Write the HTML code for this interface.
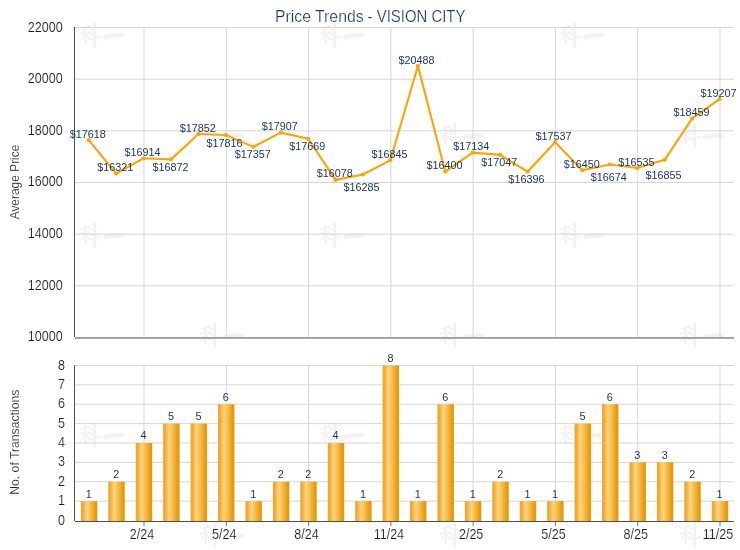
<!DOCTYPE html>
<html><head><meta charset="utf-8"><title>Price Trends - VISION CITY</title>
<style>html,body{margin:0;padding:0;background:#fff;}body{width:740px;height:550px;overflow:hidden;font-family:"Liberation Sans",sans-serif;}svg{display:block;will-change:transform;}</style>
</head><body>
<svg width="740" height="550" viewBox="0 0 740 550" font-family="Liberation Sans, sans-serif">
<defs>
<linearGradient id="bg" x1="0" y1="0" x2="1" y2="0"><stop offset="0" stop-color="#efa62a"/><stop offset="0.1" stop-color="#efa92f"/><stop offset="0.36" stop-color="#fdd47e"/><stop offset="0.65" stop-color="#f4b540"/><stop offset="0.88" stop-color="#e89b08"/><stop offset="0.95" stop-color="#e69905"/><stop offset="1" stop-color="#efa72c"/></linearGradient>
</defs>
<g transform="translate(80,22.5)" fill="none" stroke="#f2f2f2" stroke-linecap="round"><path d="M2.5 6.5 L9.5 3.5" stroke-width="2.2"/><path d="M1 11 L10.5 10" stroke-width="2"/><path d="M5.5 5 L5.5 20.5" stroke-width="2.4"/><path d="M5.5 12 L1 17.5" stroke-width="1.8"/><path d="M6.5 12.5 L9 15.5" stroke-width="1.6"/><path d="M10 5.5 L12 7.5 M10 10.5 L12 12.5" stroke-width="1.8"/><path d="M9 17 L20 14.5" stroke-width="2"/><path d="M14.7 1.5 L14.7 24" stroke-width="3"/><path d="M25 14.5 Q33 12.5 42 13" stroke-width="4.4"/></g>
<g transform="translate(200,122.5)" fill="none" stroke="#f2f2f2" stroke-linecap="round"><path d="M2.5 6.5 L9.5 3.5" stroke-width="2.2"/><path d="M1 11 L10.5 10" stroke-width="2"/><path d="M5.5 5 L5.5 20.5" stroke-width="2.4"/><path d="M5.5 12 L1 17.5" stroke-width="1.8"/><path d="M6.5 12.5 L9 15.5" stroke-width="1.6"/><path d="M10 5.5 L12 7.5 M10 10.5 L12 12.5" stroke-width="1.8"/><path d="M9 17 L20 14.5" stroke-width="2"/><path d="M14.7 1.5 L14.7 24" stroke-width="3"/><path d="M25 14.5 Q33 12.5 42 13" stroke-width="4.4"/></g>
<g transform="translate(320,22.5)" fill="none" stroke="#f2f2f2" stroke-linecap="round"><path d="M2.5 6.5 L9.5 3.5" stroke-width="2.2"/><path d="M1 11 L10.5 10" stroke-width="2"/><path d="M5.5 5 L5.5 20.5" stroke-width="2.4"/><path d="M5.5 12 L1 17.5" stroke-width="1.8"/><path d="M6.5 12.5 L9 15.5" stroke-width="1.6"/><path d="M10 5.5 L12 7.5 M10 10.5 L12 12.5" stroke-width="1.8"/><path d="M9 17 L20 14.5" stroke-width="2"/><path d="M14.7 1.5 L14.7 24" stroke-width="3"/><path d="M25 14.5 Q33 12.5 42 13" stroke-width="4.4"/></g>
<g transform="translate(440,122.5)" fill="none" stroke="#f2f2f2" stroke-linecap="round"><path d="M2.5 6.5 L9.5 3.5" stroke-width="2.2"/><path d="M1 11 L10.5 10" stroke-width="2"/><path d="M5.5 5 L5.5 20.5" stroke-width="2.4"/><path d="M5.5 12 L1 17.5" stroke-width="1.8"/><path d="M6.5 12.5 L9 15.5" stroke-width="1.6"/><path d="M10 5.5 L12 7.5 M10 10.5 L12 12.5" stroke-width="1.8"/><path d="M9 17 L20 14.5" stroke-width="2"/><path d="M14.7 1.5 L14.7 24" stroke-width="3"/><path d="M25 14.5 Q33 12.5 42 13" stroke-width="4.4"/></g>
<g transform="translate(560,22.5)" fill="none" stroke="#f2f2f2" stroke-linecap="round"><path d="M2.5 6.5 L9.5 3.5" stroke-width="2.2"/><path d="M1 11 L10.5 10" stroke-width="2"/><path d="M5.5 5 L5.5 20.5" stroke-width="2.4"/><path d="M5.5 12 L1 17.5" stroke-width="1.8"/><path d="M6.5 12.5 L9 15.5" stroke-width="1.6"/><path d="M10 5.5 L12 7.5 M10 10.5 L12 12.5" stroke-width="1.8"/><path d="M9 17 L20 14.5" stroke-width="2"/><path d="M14.7 1.5 L14.7 24" stroke-width="3"/><path d="M25 14.5 Q33 12.5 42 13" stroke-width="4.4"/></g>
<g transform="translate(680,122.5)" fill="none" stroke="#f2f2f2" stroke-linecap="round"><path d="M2.5 6.5 L9.5 3.5" stroke-width="2.2"/><path d="M1 11 L10.5 10" stroke-width="2"/><path d="M5.5 5 L5.5 20.5" stroke-width="2.4"/><path d="M5.5 12 L1 17.5" stroke-width="1.8"/><path d="M6.5 12.5 L9 15.5" stroke-width="1.6"/><path d="M10 5.5 L12 7.5 M10 10.5 L12 12.5" stroke-width="1.8"/><path d="M9 17 L20 14.5" stroke-width="2"/><path d="M14.7 1.5 L14.7 24" stroke-width="3"/><path d="M25 14.5 Q33 12.5 42 13" stroke-width="4.4"/></g>
<g transform="translate(80,222.5)" fill="none" stroke="#f2f2f2" stroke-linecap="round"><path d="M2.5 6.5 L9.5 3.5" stroke-width="2.2"/><path d="M1 11 L10.5 10" stroke-width="2"/><path d="M5.5 5 L5.5 20.5" stroke-width="2.4"/><path d="M5.5 12 L1 17.5" stroke-width="1.8"/><path d="M6.5 12.5 L9 15.5" stroke-width="1.6"/><path d="M10 5.5 L12 7.5 M10 10.5 L12 12.5" stroke-width="1.8"/><path d="M9 17 L20 14.5" stroke-width="2"/><path d="M14.7 1.5 L14.7 24" stroke-width="3"/><path d="M25 14.5 Q33 12.5 42 13" stroke-width="4.4"/></g>
<g transform="translate(200,322.5)" fill="none" stroke="#f2f2f2" stroke-linecap="round"><path d="M2.5 6.5 L9.5 3.5" stroke-width="2.2"/><path d="M1 11 L10.5 10" stroke-width="2"/><path d="M5.5 5 L5.5 20.5" stroke-width="2.4"/><path d="M5.5 12 L1 17.5" stroke-width="1.8"/><path d="M6.5 12.5 L9 15.5" stroke-width="1.6"/><path d="M10 5.5 L12 7.5 M10 10.5 L12 12.5" stroke-width="1.8"/><path d="M9 17 L20 14.5" stroke-width="2"/><path d="M14.7 1.5 L14.7 24" stroke-width="3"/><path d="M25 14.5 Q33 12.5 42 13" stroke-width="4.4"/></g>
<g transform="translate(320,222.5)" fill="none" stroke="#f2f2f2" stroke-linecap="round"><path d="M2.5 6.5 L9.5 3.5" stroke-width="2.2"/><path d="M1 11 L10.5 10" stroke-width="2"/><path d="M5.5 5 L5.5 20.5" stroke-width="2.4"/><path d="M5.5 12 L1 17.5" stroke-width="1.8"/><path d="M6.5 12.5 L9 15.5" stroke-width="1.6"/><path d="M10 5.5 L12 7.5 M10 10.5 L12 12.5" stroke-width="1.8"/><path d="M9 17 L20 14.5" stroke-width="2"/><path d="M14.7 1.5 L14.7 24" stroke-width="3"/><path d="M25 14.5 Q33 12.5 42 13" stroke-width="4.4"/></g>
<g transform="translate(440,322.5)" fill="none" stroke="#f2f2f2" stroke-linecap="round"><path d="M2.5 6.5 L9.5 3.5" stroke-width="2.2"/><path d="M1 11 L10.5 10" stroke-width="2"/><path d="M5.5 5 L5.5 20.5" stroke-width="2.4"/><path d="M5.5 12 L1 17.5" stroke-width="1.8"/><path d="M6.5 12.5 L9 15.5" stroke-width="1.6"/><path d="M10 5.5 L12 7.5 M10 10.5 L12 12.5" stroke-width="1.8"/><path d="M9 17 L20 14.5" stroke-width="2"/><path d="M14.7 1.5 L14.7 24" stroke-width="3"/><path d="M25 14.5 Q33 12.5 42 13" stroke-width="4.4"/></g>
<g transform="translate(560,222.5)" fill="none" stroke="#f2f2f2" stroke-linecap="round"><path d="M2.5 6.5 L9.5 3.5" stroke-width="2.2"/><path d="M1 11 L10.5 10" stroke-width="2"/><path d="M5.5 5 L5.5 20.5" stroke-width="2.4"/><path d="M5.5 12 L1 17.5" stroke-width="1.8"/><path d="M6.5 12.5 L9 15.5" stroke-width="1.6"/><path d="M10 5.5 L12 7.5 M10 10.5 L12 12.5" stroke-width="1.8"/><path d="M9 17 L20 14.5" stroke-width="2"/><path d="M14.7 1.5 L14.7 24" stroke-width="3"/><path d="M25 14.5 Q33 12.5 42 13" stroke-width="4.4"/></g>
<g transform="translate(680,322.5)" fill="none" stroke="#f2f2f2" stroke-linecap="round"><path d="M2.5 6.5 L9.5 3.5" stroke-width="2.2"/><path d="M1 11 L10.5 10" stroke-width="2"/><path d="M5.5 5 L5.5 20.5" stroke-width="2.4"/><path d="M5.5 12 L1 17.5" stroke-width="1.8"/><path d="M6.5 12.5 L9 15.5" stroke-width="1.6"/><path d="M10 5.5 L12 7.5 M10 10.5 L12 12.5" stroke-width="1.8"/><path d="M9 17 L20 14.5" stroke-width="2"/><path d="M14.7 1.5 L14.7 24" stroke-width="3"/><path d="M25 14.5 Q33 12.5 42 13" stroke-width="4.4"/></g>
<g transform="translate(80,422.5)" fill="none" stroke="#f2f2f2" stroke-linecap="round"><path d="M2.5 6.5 L9.5 3.5" stroke-width="2.2"/><path d="M1 11 L10.5 10" stroke-width="2"/><path d="M5.5 5 L5.5 20.5" stroke-width="2.4"/><path d="M5.5 12 L1 17.5" stroke-width="1.8"/><path d="M6.5 12.5 L9 15.5" stroke-width="1.6"/><path d="M10 5.5 L12 7.5 M10 10.5 L12 12.5" stroke-width="1.8"/><path d="M9 17 L20 14.5" stroke-width="2"/><path d="M14.7 1.5 L14.7 24" stroke-width="3"/><path d="M25 14.5 Q33 12.5 42 13" stroke-width="4.4"/></g>
<g transform="translate(200,522.5)" fill="none" stroke="#f2f2f2" stroke-linecap="round"><path d="M2.5 6.5 L9.5 3.5" stroke-width="2.2"/><path d="M1 11 L10.5 10" stroke-width="2"/><path d="M5.5 5 L5.5 20.5" stroke-width="2.4"/><path d="M5.5 12 L1 17.5" stroke-width="1.8"/><path d="M6.5 12.5 L9 15.5" stroke-width="1.6"/><path d="M10 5.5 L12 7.5 M10 10.5 L12 12.5" stroke-width="1.8"/><path d="M9 17 L20 14.5" stroke-width="2"/><path d="M14.7 1.5 L14.7 24" stroke-width="3"/><path d="M25 14.5 Q33 12.5 42 13" stroke-width="4.4"/></g>
<g transform="translate(320,422.5)" fill="none" stroke="#f2f2f2" stroke-linecap="round"><path d="M2.5 6.5 L9.5 3.5" stroke-width="2.2"/><path d="M1 11 L10.5 10" stroke-width="2"/><path d="M5.5 5 L5.5 20.5" stroke-width="2.4"/><path d="M5.5 12 L1 17.5" stroke-width="1.8"/><path d="M6.5 12.5 L9 15.5" stroke-width="1.6"/><path d="M10 5.5 L12 7.5 M10 10.5 L12 12.5" stroke-width="1.8"/><path d="M9 17 L20 14.5" stroke-width="2"/><path d="M14.7 1.5 L14.7 24" stroke-width="3"/><path d="M25 14.5 Q33 12.5 42 13" stroke-width="4.4"/></g>
<g transform="translate(440,522.5)" fill="none" stroke="#f2f2f2" stroke-linecap="round"><path d="M2.5 6.5 L9.5 3.5" stroke-width="2.2"/><path d="M1 11 L10.5 10" stroke-width="2"/><path d="M5.5 5 L5.5 20.5" stroke-width="2.4"/><path d="M5.5 12 L1 17.5" stroke-width="1.8"/><path d="M6.5 12.5 L9 15.5" stroke-width="1.6"/><path d="M10 5.5 L12 7.5 M10 10.5 L12 12.5" stroke-width="1.8"/><path d="M9 17 L20 14.5" stroke-width="2"/><path d="M14.7 1.5 L14.7 24" stroke-width="3"/><path d="M25 14.5 Q33 12.5 42 13" stroke-width="4.4"/></g>
<g transform="translate(560,422.5)" fill="none" stroke="#f2f2f2" stroke-linecap="round"><path d="M2.5 6.5 L9.5 3.5" stroke-width="2.2"/><path d="M1 11 L10.5 10" stroke-width="2"/><path d="M5.5 5 L5.5 20.5" stroke-width="2.4"/><path d="M5.5 12 L1 17.5" stroke-width="1.8"/><path d="M6.5 12.5 L9 15.5" stroke-width="1.6"/><path d="M10 5.5 L12 7.5 M10 10.5 L12 12.5" stroke-width="1.8"/><path d="M9 17 L20 14.5" stroke-width="2"/><path d="M14.7 1.5 L14.7 24" stroke-width="3"/><path d="M25 14.5 Q33 12.5 42 13" stroke-width="4.4"/></g>
<g transform="translate(680,522.5)" fill="none" stroke="#f2f2f2" stroke-linecap="round"><path d="M2.5 6.5 L9.5 3.5" stroke-width="2.2"/><path d="M1 11 L10.5 10" stroke-width="2"/><path d="M5.5 5 L5.5 20.5" stroke-width="2.4"/><path d="M5.5 12 L1 17.5" stroke-width="1.8"/><path d="M6.5 12.5 L9 15.5" stroke-width="1.6"/><path d="M10 5.5 L12 7.5 M10 10.5 L12 12.5" stroke-width="1.8"/><path d="M9 17 L20 14.5" stroke-width="2"/><path d="M14.7 1.5 L14.7 24" stroke-width="3"/><path d="M25 14.5 Q33 12.5 42 13" stroke-width="4.4"/></g>
<rect x="75" y="27.000" width="659" height="1" fill="#d6d6d6"/>
<rect x="75" y="78.667" width="659" height="1" fill="#d6d6d6"/>
<rect x="75" y="130.333" width="659" height="1" fill="#d6d6d6"/>
<rect x="75" y="182.000" width="659" height="1" fill="#d6d6d6"/>
<rect x="75" y="233.667" width="659" height="1" fill="#d6d6d6"/>
<rect x="75" y="285.333" width="659" height="1" fill="#d6d6d6"/>
<rect x="143.500" y="27" width="1" height="310" fill="#d6d6d6"/>
<rect x="143.500" y="365" width="1" height="156" fill="#d6d6d6"/>
<rect x="225.786" y="27" width="1" height="310" fill="#d6d6d6"/>
<rect x="225.786" y="365" width="1" height="156" fill="#d6d6d6"/>
<rect x="308.072" y="27" width="1" height="310" fill="#d6d6d6"/>
<rect x="308.072" y="365" width="1" height="156" fill="#d6d6d6"/>
<rect x="390.358" y="27" width="1" height="310" fill="#d6d6d6"/>
<rect x="390.358" y="365" width="1" height="156" fill="#d6d6d6"/>
<rect x="472.643" y="27" width="1" height="310" fill="#d6d6d6"/>
<rect x="472.643" y="365" width="1" height="156" fill="#d6d6d6"/>
<rect x="554.929" y="27" width="1" height="310" fill="#d6d6d6"/>
<rect x="554.929" y="365" width="1" height="156" fill="#d6d6d6"/>
<rect x="637.215" y="27" width="1" height="310" fill="#d6d6d6"/>
<rect x="637.215" y="365" width="1" height="156" fill="#d6d6d6"/>
<rect x="719.501" y="27" width="1" height="310" fill="#d6d6d6"/>
<rect x="719.501" y="365" width="1" height="156" fill="#d6d6d6"/>
<rect x="75" y="500.625" width="659" height="1" fill="#d6d6d6"/>
<rect x="75" y="481.250" width="659" height="1" fill="#d6d6d6"/>
<rect x="75" y="461.875" width="659" height="1" fill="#d6d6d6"/>
<rect x="75" y="442.500" width="659" height="1" fill="#d6d6d6"/>
<rect x="75" y="423.125" width="659" height="1" fill="#d6d6d6"/>
<rect x="75" y="403.750" width="659" height="1" fill="#d6d6d6"/>
<rect x="75" y="384.375" width="659" height="1" fill="#d6d6d6"/>
<rect x="75" y="365.000" width="659" height="1" fill="#d6d6d6"/>
<rect x="74" y="27" width="1" height="310" fill="#4e4e4e"/>
<rect x="75" y="337" width="659" height="1.85" fill="#9e9e9e"/>
<polyline points="88.74,140.10 116.17,173.61 143.60,158.29 171.03,159.37 198.46,134.06 225.89,134.99 253.31,146.84 280.74,132.64 308.17,138.78 335.60,179.88 363.03,174.54 390.46,160.07 417.89,65.96 445.31,171.57 472.74,152.60 500.17,154.85 527.60,171.67 555.03,142.19 582.46,170.27 609.89,164.49 637.32,168.08 664.74,159.81 692.17,118.38 719.60,99.05" fill="none" stroke="#ffa500" stroke-width="2.1" stroke-linejoin="round" stroke-linecap="round"/>
<circle cx="88.74" cy="140.10" r="2.1" fill="#ffa500"/>
<circle cx="116.17" cy="173.61" r="2.1" fill="#ffa500"/>
<circle cx="143.60" cy="158.29" r="2.1" fill="#ffa500"/>
<circle cx="171.03" cy="159.37" r="2.1" fill="#ffa500"/>
<circle cx="198.46" cy="134.06" r="2.1" fill="#ffa500"/>
<circle cx="225.89" cy="134.99" r="2.1" fill="#ffa500"/>
<circle cx="253.31" cy="146.84" r="2.1" fill="#ffa500"/>
<circle cx="280.74" cy="132.64" r="2.1" fill="#ffa500"/>
<circle cx="308.17" cy="138.78" r="2.1" fill="#ffa500"/>
<circle cx="335.60" cy="179.88" r="2.1" fill="#ffa500"/>
<circle cx="363.03" cy="174.54" r="2.1" fill="#ffa500"/>
<circle cx="390.46" cy="160.07" r="2.1" fill="#ffa500"/>
<circle cx="417.89" cy="65.96" r="2.1" fill="#ffa500"/>
<circle cx="445.31" cy="171.57" r="2.1" fill="#ffa500"/>
<circle cx="472.74" cy="152.60" r="2.1" fill="#ffa500"/>
<circle cx="500.17" cy="154.85" r="2.1" fill="#ffa500"/>
<circle cx="527.60" cy="171.67" r="2.1" fill="#ffa500"/>
<circle cx="555.03" cy="142.19" r="2.1" fill="#ffa500"/>
<circle cx="582.46" cy="170.27" r="2.1" fill="#ffa500"/>
<circle cx="609.89" cy="164.49" r="2.1" fill="#ffa500"/>
<circle cx="637.32" cy="168.08" r="2.1" fill="#ffa500"/>
<circle cx="664.74" cy="159.81" r="2.1" fill="#ffa500"/>
<circle cx="692.17" cy="118.38" r="2.1" fill="#ffa500"/>
<circle cx="719.60" cy="99.05" r="2.1" fill="#ffa500"/>
<text transform="translate(87.75,138.00) scale(0.94,1)" font-size="11.5" text-anchor="middle" fill="#15345d">$17618</text>
<text transform="translate(115.25,171.00) scale(0.94,1)" font-size="11.5" text-anchor="middle" fill="#15345d">$16321</text>
<text transform="translate(142.50,156.30) scale(0.94,1)" font-size="11.5" text-anchor="middle" fill="#15345d">$16914</text>
<text transform="translate(170.60,170.50) scale(0.94,1)" font-size="11.5" text-anchor="middle" fill="#15345d">$16872</text>
<text transform="translate(197.75,132.30) scale(0.94,1)" font-size="11.5" text-anchor="middle" fill="#15345d">$17852</text>
<text transform="translate(224.50,146.50) scale(0.94,1)" font-size="11.5" text-anchor="middle" fill="#15345d">$17816</text>
<text transform="translate(252.75,158.00) scale(0.94,1)" font-size="11.5" text-anchor="middle" fill="#15345d">$17357</text>
<text transform="translate(279.75,130.00) scale(0.94,1)" font-size="11.5" text-anchor="middle" fill="#15345d">$17907</text>
<text transform="translate(307.25,150.30) scale(0.94,1)" font-size="11.5" text-anchor="middle" fill="#15345d">$17669</text>
<text transform="translate(334.75,177.30) scale(0.94,1)" font-size="11.5" text-anchor="middle" fill="#15345d">$16078</text>
<text transform="translate(361.60,191.00) scale(0.94,1)" font-size="11.5" text-anchor="middle" fill="#15345d">$16285</text>
<text transform="translate(389.50,157.80) scale(0.94,1)" font-size="11.5" text-anchor="middle" fill="#15345d">$16845</text>
<text transform="translate(416.50,64.00) scale(0.94,1)" font-size="11.5" text-anchor="middle" fill="#15345d">$20488</text>
<text transform="translate(444.50,169.00) scale(0.94,1)" font-size="11.5" text-anchor="middle" fill="#15345d">$16400</text>
<text transform="translate(471.20,150.00) scale(0.94,1)" font-size="11.5" text-anchor="middle" fill="#15345d">$17134</text>
<text transform="translate(499.20,166.30) scale(0.94,1)" font-size="11.5" text-anchor="middle" fill="#15345d">$17047</text>
<text transform="translate(526.40,183.00) scale(0.94,1)" font-size="11.5" text-anchor="middle" fill="#15345d">$16396</text>
<text transform="translate(553.60,140.20) scale(0.94,1)" font-size="11.5" text-anchor="middle" fill="#15345d">$17537</text>
<text transform="translate(581.70,168.00) scale(0.94,1)" font-size="11.5" text-anchor="middle" fill="#15345d">$16450</text>
<text transform="translate(608.70,181.20) scale(0.94,1)" font-size="11.5" text-anchor="middle" fill="#15345d">$16674</text>
<text transform="translate(636.40,166.20) scale(0.94,1)" font-size="11.5" text-anchor="middle" fill="#15345d">$16535</text>
<text transform="translate(663.60,179.40) scale(0.94,1)" font-size="11.5" text-anchor="middle" fill="#15345d">$16855</text>
<text transform="translate(691.60,116.30) scale(0.94,1)" font-size="11.5" text-anchor="middle" fill="#15345d">$18459</text>
<text transform="translate(718.50,97.20) scale(0.94,1)" font-size="11.5" text-anchor="middle" fill="#15345d">$19207</text>
<text transform="translate(62.7,31.85) scale(0.885,1)" font-size="14.2" text-anchor="end" fill="#1c1c1c" stroke="#fff" stroke-width="0.15">22000</text>
<text transform="translate(62.7,82.85) scale(0.885,1)" font-size="14.2" text-anchor="end" fill="#1c1c1c" stroke="#fff" stroke-width="0.15">20000</text>
<text transform="translate(62.7,134.85) scale(0.885,1)" font-size="14.2" text-anchor="end" fill="#1c1c1c" stroke="#fff" stroke-width="0.15">18000</text>
<text transform="translate(62.7,185.85) scale(0.885,1)" font-size="14.2" text-anchor="end" fill="#1c1c1c" stroke="#fff" stroke-width="0.15">16000</text>
<text transform="translate(62.7,237.85) scale(0.885,1)" font-size="14.2" text-anchor="end" fill="#1c1c1c" stroke="#fff" stroke-width="0.15">14000</text>
<text transform="translate(62.7,289.85) scale(0.885,1)" font-size="14.2" text-anchor="end" fill="#1c1c1c" stroke="#fff" stroke-width="0.15">12000</text>
<text transform="translate(62.7,340.85) scale(0.885,1)" font-size="14.2" text-anchor="end" fill="#1c1c1c" stroke="#fff" stroke-width="0.15">10000</text>
<rect x="80.89" y="501.12" width="16.5" height="19.88" fill="url(#bg)"/>
<text transform="translate(88.74,497.52) scale(0.92,1)" font-size="11.8" text-anchor="middle" fill="#15345d">1</text>
<rect x="108.32" y="481.75" width="16.5" height="39.25" fill="url(#bg)"/>
<text transform="translate(116.17,478.15) scale(0.92,1)" font-size="11.8" text-anchor="middle" fill="#15345d">2</text>
<rect x="135.75" y="443.00" width="16.5" height="78.00" fill="url(#bg)"/>
<text transform="translate(143.60,439.40) scale(0.92,1)" font-size="11.8" text-anchor="middle" fill="#15345d">4</text>
<rect x="163.18" y="423.62" width="16.5" height="97.38" fill="url(#bg)"/>
<text transform="translate(171.03,420.02) scale(0.92,1)" font-size="11.8" text-anchor="middle" fill="#15345d">5</text>
<rect x="190.61" y="423.62" width="16.5" height="97.38" fill="url(#bg)"/>
<text transform="translate(198.46,420.02) scale(0.92,1)" font-size="11.8" text-anchor="middle" fill="#15345d">5</text>
<rect x="218.04" y="404.25" width="16.5" height="116.75" fill="url(#bg)"/>
<text transform="translate(225.89,400.65) scale(0.92,1)" font-size="11.8" text-anchor="middle" fill="#15345d">6</text>
<rect x="245.46" y="501.12" width="16.5" height="19.88" fill="url(#bg)"/>
<text transform="translate(253.31,497.52) scale(0.92,1)" font-size="11.8" text-anchor="middle" fill="#15345d">1</text>
<rect x="272.89" y="481.75" width="16.5" height="39.25" fill="url(#bg)"/>
<text transform="translate(280.74,478.15) scale(0.92,1)" font-size="11.8" text-anchor="middle" fill="#15345d">2</text>
<rect x="300.32" y="481.75" width="16.5" height="39.25" fill="url(#bg)"/>
<text transform="translate(308.17,478.15) scale(0.92,1)" font-size="11.8" text-anchor="middle" fill="#15345d">2</text>
<rect x="327.75" y="443.00" width="16.5" height="78.00" fill="url(#bg)"/>
<text transform="translate(335.60,439.40) scale(0.92,1)" font-size="11.8" text-anchor="middle" fill="#15345d">4</text>
<rect x="355.18" y="501.12" width="16.5" height="19.88" fill="url(#bg)"/>
<text transform="translate(363.03,497.52) scale(0.92,1)" font-size="11.8" text-anchor="middle" fill="#15345d">1</text>
<rect x="382.61" y="365.50" width="16.5" height="155.50" fill="url(#bg)"/>
<text transform="translate(390.46,361.90) scale(0.92,1)" font-size="11.8" text-anchor="middle" fill="#15345d">8</text>
<rect x="410.04" y="501.12" width="16.5" height="19.88" fill="url(#bg)"/>
<text transform="translate(417.89,497.52) scale(0.92,1)" font-size="11.8" text-anchor="middle" fill="#15345d">1</text>
<rect x="437.46" y="404.25" width="16.5" height="116.75" fill="url(#bg)"/>
<text transform="translate(445.31,400.65) scale(0.92,1)" font-size="11.8" text-anchor="middle" fill="#15345d">6</text>
<rect x="464.89" y="501.12" width="16.5" height="19.88" fill="url(#bg)"/>
<text transform="translate(472.74,497.52) scale(0.92,1)" font-size="11.8" text-anchor="middle" fill="#15345d">1</text>
<rect x="492.32" y="481.75" width="16.5" height="39.25" fill="url(#bg)"/>
<text transform="translate(500.17,478.15) scale(0.92,1)" font-size="11.8" text-anchor="middle" fill="#15345d">2</text>
<rect x="519.75" y="501.12" width="16.5" height="19.88" fill="url(#bg)"/>
<text transform="translate(527.60,497.52) scale(0.92,1)" font-size="11.8" text-anchor="middle" fill="#15345d">1</text>
<rect x="547.18" y="501.12" width="16.5" height="19.88" fill="url(#bg)"/>
<text transform="translate(555.03,497.52) scale(0.92,1)" font-size="11.8" text-anchor="middle" fill="#15345d">1</text>
<rect x="574.61" y="423.62" width="16.5" height="97.38" fill="url(#bg)"/>
<text transform="translate(582.46,420.02) scale(0.92,1)" font-size="11.8" text-anchor="middle" fill="#15345d">5</text>
<rect x="602.04" y="404.25" width="16.5" height="116.75" fill="url(#bg)"/>
<text transform="translate(609.89,400.65) scale(0.92,1)" font-size="11.8" text-anchor="middle" fill="#15345d">6</text>
<rect x="629.47" y="462.38" width="16.5" height="58.62" fill="url(#bg)"/>
<text transform="translate(637.32,458.77) scale(0.92,1)" font-size="11.8" text-anchor="middle" fill="#15345d">3</text>
<rect x="656.89" y="462.38" width="16.5" height="58.62" fill="url(#bg)"/>
<text transform="translate(664.74,458.77) scale(0.92,1)" font-size="11.8" text-anchor="middle" fill="#15345d">3</text>
<rect x="684.32" y="481.75" width="16.5" height="39.25" fill="url(#bg)"/>
<text transform="translate(692.17,478.15) scale(0.92,1)" font-size="11.8" text-anchor="middle" fill="#15345d">2</text>
<rect x="711.75" y="501.12" width="16.5" height="19.88" fill="url(#bg)"/>
<text transform="translate(719.60,497.52) scale(0.92,1)" font-size="11.8" text-anchor="middle" fill="#15345d">1</text>
<rect x="74" y="365" width="1" height="156" fill="#4e4e4e"/>
<rect x="75" y="521" width="659" height="1" fill="#4e4e4e"/>
<rect x="143.500" y="522" width="1" height="4" fill="#777"/>
<text transform="translate(142.00,538.8) scale(0.885,1)" font-size="14.2" text-anchor="middle" fill="#1c1c1c" stroke="#fff" stroke-width="0.15">2/24</text>
<rect x="225.786" y="522" width="1" height="4" fill="#777"/>
<text transform="translate(224.29,538.8) scale(0.885,1)" font-size="14.2" text-anchor="middle" fill="#1c1c1c" stroke="#fff" stroke-width="0.15">5/24</text>
<rect x="308.072" y="522" width="1" height="4" fill="#777"/>
<text transform="translate(306.57,538.8) scale(0.885,1)" font-size="14.2" text-anchor="middle" fill="#1c1c1c" stroke="#fff" stroke-width="0.15">8/24</text>
<rect x="390.358" y="522" width="1" height="4" fill="#777"/>
<text transform="translate(388.86,538.8) scale(0.885,1)" font-size="14.2" text-anchor="middle" fill="#1c1c1c" stroke="#fff" stroke-width="0.15">11/24</text>
<rect x="472.643" y="522" width="1" height="4" fill="#777"/>
<text transform="translate(471.14,538.8) scale(0.885,1)" font-size="14.2" text-anchor="middle" fill="#1c1c1c" stroke="#fff" stroke-width="0.15">2/25</text>
<rect x="554.929" y="522" width="1" height="4" fill="#777"/>
<text transform="translate(553.43,538.8) scale(0.885,1)" font-size="14.2" text-anchor="middle" fill="#1c1c1c" stroke="#fff" stroke-width="0.15">5/25</text>
<rect x="637.215" y="522" width="1" height="4" fill="#777"/>
<text transform="translate(635.72,538.8) scale(0.885,1)" font-size="14.2" text-anchor="middle" fill="#1c1c1c" stroke="#fff" stroke-width="0.15">8/25</text>
<rect x="719.501" y="522" width="1" height="4" fill="#777"/>
<text transform="translate(718.00,538.8) scale(0.885,1)" font-size="14.2" text-anchor="middle" fill="#1c1c1c" stroke="#fff" stroke-width="0.15">11/25</text>
<text transform="translate(64.9,524.50) scale(0.885,1)" font-size="14.2" text-anchor="end" fill="#1c1c1c" stroke="#fff" stroke-width="0.15">0</text>
<text transform="translate(64.9,505.12) scale(0.885,1)" font-size="14.2" text-anchor="end" fill="#1c1c1c" stroke="#fff" stroke-width="0.15">1</text>
<text transform="translate(64.9,485.75) scale(0.885,1)" font-size="14.2" text-anchor="end" fill="#1c1c1c" stroke="#fff" stroke-width="0.15">2</text>
<text transform="translate(64.9,466.38) scale(0.885,1)" font-size="14.2" text-anchor="end" fill="#1c1c1c" stroke="#fff" stroke-width="0.15">3</text>
<text transform="translate(64.9,447.00) scale(0.885,1)" font-size="14.2" text-anchor="end" fill="#1c1c1c" stroke="#fff" stroke-width="0.15">4</text>
<text transform="translate(64.9,427.62) scale(0.885,1)" font-size="14.2" text-anchor="end" fill="#1c1c1c" stroke="#fff" stroke-width="0.15">5</text>
<text transform="translate(64.9,408.25) scale(0.885,1)" font-size="14.2" text-anchor="end" fill="#1c1c1c" stroke="#fff" stroke-width="0.15">6</text>
<text transform="translate(64.9,388.88) scale(0.885,1)" font-size="14.2" text-anchor="end" fill="#1c1c1c" stroke="#fff" stroke-width="0.15">7</text>
<text transform="translate(64.9,369.50) scale(0.885,1)" font-size="14.2" text-anchor="end" fill="#1c1c1c" stroke="#fff" stroke-width="0.15">8</text>
<text transform="translate(19.2,182) rotate(-90)" font-size="12.4" text-anchor="middle" fill="#222" stroke="#fff" stroke-width="0.15" textLength="74.7" lengthAdjust="spacingAndGlyphs">Average Price</text>
<text transform="translate(19.2,442.2) rotate(-90)" font-size="12.4" text-anchor="middle" fill="#222" stroke="#fff" stroke-width="0.15" textLength="105.2" lengthAdjust="spacingAndGlyphs">No. of Transactions</text>
<text x="275" y="21.6" font-size="16.6" fill="#17375f" stroke="#fff" stroke-width="0.22" textLength="88.6" lengthAdjust="spacingAndGlyphs">Price Trends</text>
<text x="367.6" y="21.6" font-size="16.6" fill="#17375f" stroke="#fff" stroke-width="0.22" textLength="97.8" lengthAdjust="spacingAndGlyphs">- VISION CITY</text>
</svg>
</body></html>
